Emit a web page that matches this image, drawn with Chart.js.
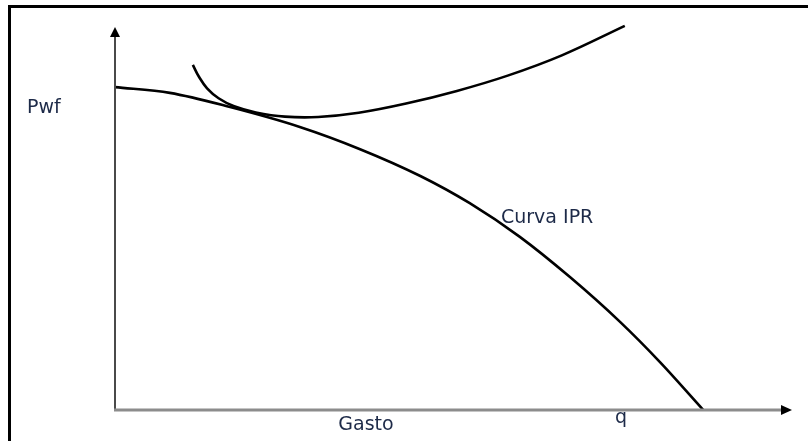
<!DOCTYPE html>
<html>
<head>
<meta charset="utf-8">
<script src="https://cdn.jsdelivr.net/npm/chart.js@4"></script>
<style>
  html, body { margin: 0; padding: 0; background: #fff; }
  #wrap { position: relative; width: 808px; height: 441px; overflow: hidden; }
  #frame { position: absolute; left: 8px; top: 5px; width: 820px; height: 460px;
           border-left: 3px solid #000; border-top: 3px solid #000; box-sizing: border-box; }
  canvas { position: absolute; left: 0; top: 0; }
</style>
</head>
<body>
<div id="wrap">
  <div id="frame"></div>
  <canvas id="c" width="808" height="441"></canvas>
</div>
<script>
// Curva IPR: gasto (q) vs Pwf
const iprQ   = [0, 8.1, 17.0, 27.3, 36.2, 45.1, 52.4, 59.8, 67.2, 74.6, 80.5, 86.9];
const iprPwf = [84.3, 82.8, 79.1, 73.9, 68.1, 61.1, 54.0, 45.2, 34.7, 23.0, 12.5, 0];

// Curva de tubería (VLP)
const vlpQ   = [11.5, 12.4, 13.6, 15.3, 17.6, 20.8, 25.1, 30.0, 36.0, 43.0, 50.5, 58.0, 66.0, 75.3];
const vlpPwf = [90.1, 87.0, 84.0, 81.4, 79.3, 77.7, 76.6, 76.5, 77.6, 80.0, 83.3, 87.3, 92.6, 100.3];

const labels = { y: 'Pwf', x: 'Gasto', q: 'q', ipr: 'Curva IPR' };

const toPts = (xs, ys) => xs.map((x, i) => ({ x: x, y: ys[i] }));

const FONT = '19px "DejaVu Sans", Verdana, sans-serif';
const TXT = '#1d2a48';

const decor = {
  id: 'decor',
  afterDraw(chart) {
    const ctx = chart.ctx;
    const xs = chart.scales.x, ys = chart.scales.y;
    const x0 = xs.getPixelForValue(0), y0 = ys.getPixelForValue(0);
    const xEnd = xs.right, yTop = ys.top;
    ctx.save();
    // y axis
    ctx.strokeStyle = '#4a4a4a'; ctx.lineWidth = 2;
    ctx.beginPath(); ctx.moveTo(x0, y0); ctx.lineTo(x0, yTop + 8); ctx.stroke();
    ctx.fillStyle = '#000';
    ctx.beginPath(); ctx.moveTo(x0, yTop); ctx.lineTo(x0 - 5, yTop + 10); ctx.lineTo(x0 + 5, yTop + 10); ctx.closePath(); ctx.fill();
    // x axis
    ctx.strokeStyle = '#8c8c8c'; ctx.lineWidth = 3;
    ctx.beginPath(); ctx.moveTo(x0 - 1, y0); ctx.lineTo(xEnd - 8, y0); ctx.stroke();
    ctx.fillStyle = '#000';
    ctx.beginPath(); ctx.moveTo(xEnd, y0); ctx.lineTo(xEnd - 11, y0 - 5); ctx.lineTo(xEnd - 11, y0 + 5); ctx.closePath(); ctx.fill();
    // texts
    ctx.fillStyle = TXT; ctx.font = FONT; ctx.textBaseline = 'middle';
    ctx.textAlign = 'left';
    ctx.fillText(labels.y, 27, 108);
    ctx.fillText(labels.ipr, 501, 218);
    ctx.textAlign = 'center';
    ctx.fillText(labels.x, 366, 425);
    ctx.fillText(labels.q, 621, 418);
    ctx.restore();
  }
};

new Chart(document.getElementById('c'), {
  type: 'scatter',
  data: {
    datasets: [
      { data: toPts(iprQ, iprPwf), showLine: true, borderColor: '#000', borderWidth: 2.6,
        pointRadius: 0, cubicInterpolationMode: 'monotone', fill: false },
      { data: toPts(vlpQ, vlpPwf), showLine: true, borderColor: '#000', borderWidth: 2.6,
        pointRadius: 0, tension: 0.4, fill: false }
    ]
  },
  options: {
    responsive: false,
    animation: false,
    layout: { padding: { left: 115, right: 16, top: 27, bottom: 31 } },
    plugins: { legend: { display: false }, tooltip: { enabled: false } },
    scales: {
      x: { type: 'linear', min: 0, max: 100, display: false },
      y: { type: 'linear', min: 0, max: 100, display: false }
    },
    clip: false
  },
  plugins: [decor]
});
</script>
</body>
</html>
